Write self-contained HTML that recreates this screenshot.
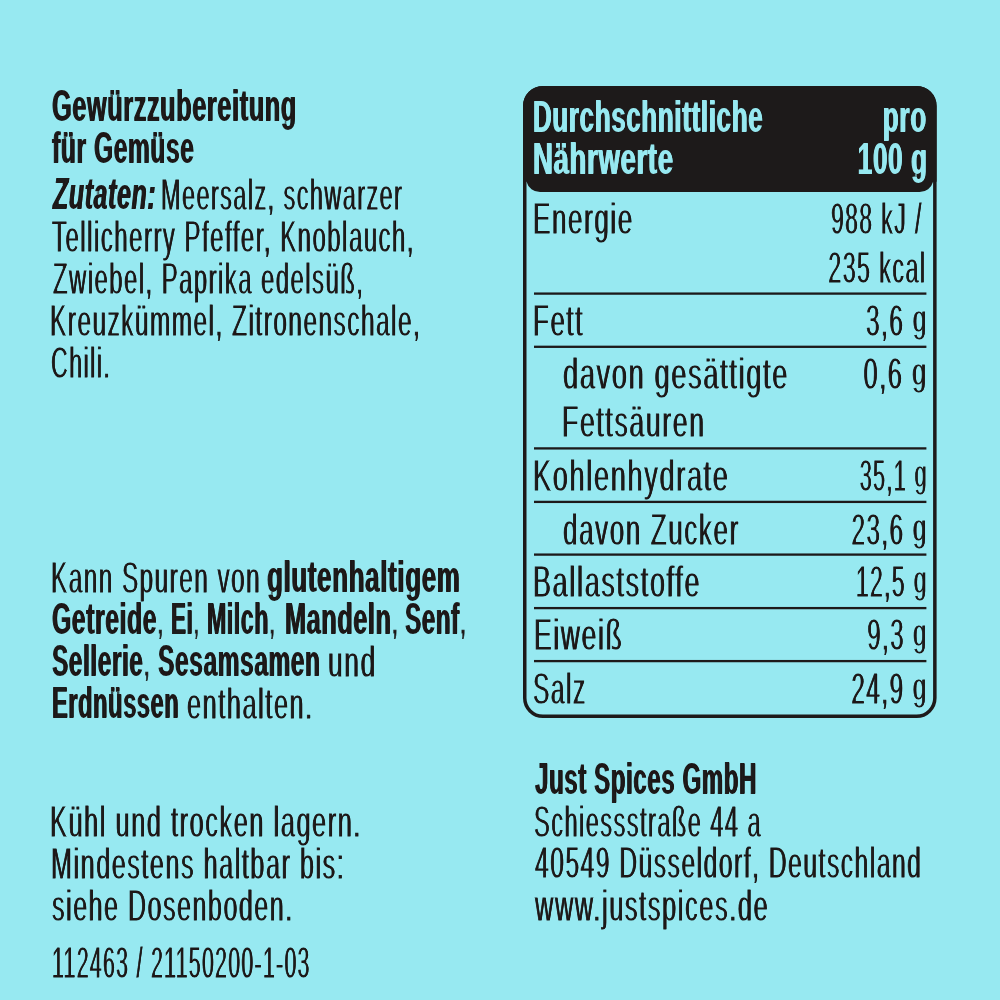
<!DOCTYPE html>
<html><head><meta charset="utf-8">
<style>
html,body{margin:0;padding:0;}
body{width:1000px;height:1000px;overflow:hidden;position:relative;background:#97e9f1;font-family:"Liberation Sans",sans-serif;color:#1d1a1a;}
.ln{position:absolute;white-space:nowrap;font-size:43.5px;line-height:50px;}
.l{transform-origin:0 0;}
.r{transform-origin:100% 0;}
b{font-weight:bold;font-size:44.8px;line-height:0;letter-spacing:1.2px;-webkit-text-stroke:1.8px #1d1a1a;text-shadow:0.8px 0 0 #1d1a1a;}
.hd b{-webkit-text-stroke:1.8px #97e9f1;text-shadow:0.8px 0 0 #97e9f1;}
.bd{filter:url(#thin);-webkit-text-stroke:1.2px #1d1a1a;}
.rg{letter-spacing:2.8px;-webkit-text-stroke:1.2px #1d1a1a;text-shadow:0.6px 0 0 #1d1a1a;filter:url(#thin);}
.hd{color:#97e9f1;}
.g{display:inline-block;transform:scaleY(0.88);transform-origin:50% 8px;}
</style></head><body>
<svg width="0" height="0" style="position:absolute"><filter id="thin" x="-2%" y="-10%" width="104%" height="120%"><feMorphology operator="erode" radius="0 0.5"/></filter></svg>
<svg width="1000" height="1000" style="position:absolute;left:0;top:0" viewBox="0 0 1000 1000">
<rect x="524.75" y="87.75" width="410.1" height="628.5" rx="18.25" ry="18.25" fill="none" stroke="#1d1a1a" stroke-width="3.5"/>
<path d="M523,106 A20,20 0 0 1 543,86 H916.6 A20,20 0 0 1 936.6,106 V181.7 H933.1 A14,14 0 0 1 919.6,192 H540 A14,14 0 0 1 526.5,181.7 H523 Z" fill="#1d1a1a"/>
<rect x="534" y="292.45" width="392.4" height="2.3" fill="#1d1a1a"/><rect x="534" y="345.65" width="392.4" height="2.3" fill="#1d1a1a"/><rect x="534" y="447.25" width="392.4" height="2.3" fill="#1d1a1a"/><rect x="534" y="500.75" width="392.4" height="2.3" fill="#1d1a1a"/><rect x="534" y="553.45" width="392.4" height="2.3" fill="#1d1a1a"/><rect x="534" y="606.95" width="392.4" height="2.3" fill="#1d1a1a"/><rect x="534" y="659.95" width="392.4" height="2.3" fill="#1d1a1a"/>
</svg>

<div id="t1" class="ln bd l" style="left:51.82px;top:80.80px;transform:scaleX(0.5614)"><b>Gewürzzubereitung</b></div>
<div id="t2" class="ln bd l" style="left:51.61px;top:122.50px;transform:scaleX(0.5458)"><b>für Gemüse</b></div>
<div id="t3a" class="ln bd l" style="left:52.50px;top:169.40px;transform:scaleX(0.5540)"><b><i>Zutaten:</i></b></div>
<div id="t3b" class="ln rg l" style="left:161.27px;top:170.20px;transform:scaleX(0.5360)">Meersalz, schwarzer</div>
<div id="t4" class="ln rg l" style="left:52.19px;top:212.20px;transform:scaleX(0.5487)">Tellicherry Pfeffer, Knoblauch,</div>
<div id="t5" class="ln rg l" style="left:52.77px;top:254.00px;transform:scaleX(0.5457)">Zwiebel, Paprika edelsüß,</div>
<div id="t6" class="ln rg l" style="left:50.30px;top:295.80px;transform:scaleX(0.5576)">Kreuzkümmel, Zitronenschale,</div>
<div id="t7" class="ln rg l" style="left:51.11px;top:337.60px;transform:scaleX(0.5306)">Chili.</div>
<div id="a1a" class="ln rg l" style="left:51.17px;top:552.80px;transform:scaleX(0.5554)">Kann Spuren von</div>
<div id="a1b" class="ln bd l" style="left:267.35px;top:552.00px;transform:scaleX(0.5766)"><b>glutenhaltigem</b></div>
<div id="a2a" class="ln bd l" style="left:52.08px;top:594.20px;transform:scaleX(0.5492)"><b>Getreide</b>,</div>
<div id="a2b" class="ln bd l" style="left:171.01px;top:594.20px;transform:scaleX(0.4988)"><b>Ei</b>,</div>
<div id="a2c" class="ln bd l" style="left:206.62px;top:594.20px;transform:scaleX(0.5144)"><b>Milch</b>,</div>
<div id="a2d" class="ln bd l" style="left:285.17px;top:594.20px;transform:scaleX(0.5602)"><b>Mandeln</b>,</div>
<div id="a2e" class="ln bd l" style="left:405.49px;top:594.20px;transform:scaleX(0.5377)"><b>Senf</b>,</div>
<div id="a3a" class="ln bd l" style="left:52.10px;top:636.00px;transform:scaleX(0.5414)"><b>Sellerie</b>,</div>
<div id="a3b" class="ln bd l" style="left:157.52px;top:636.00px;transform:scaleX(0.5450)"><b>Sesamsamen</b></div>
<div id="a3c" class="ln rg l" style="left:327.75px;top:636.80px;transform:scaleX(0.6025)">und</div>
<div id="a4a" class="ln bd l" style="left:52.16px;top:678.00px;transform:scaleX(0.5253)"><b>Erdnüssen</b></div>
<div id="a4b" class="ln rg l" style="left:187.29px;top:678.80px;transform:scaleX(0.5785)">enthalten.</div>
<div id="s1" class="ln rg l" style="left:50.48px;top:796.90px;transform:scaleX(0.5789)">Kühl und trocken lagern.</div>
<div id="s2" class="ln rg l" style="left:50.50px;top:838.80px;transform:scaleX(0.5751)">Mindestens haltbar bis:</div>
<div id="s3" class="ln rg l" style="left:52.05px;top:880.60px;transform:scaleX(0.5720)">siehe Dosenboden.</div>
<div id="s4" class="ln rg l" style="left:51.56px;top:937.60px;transform:scaleX(0.4866)">112463 / 21150200-1-03</div>
<div id="d1" class="ln bd l" style="left:534.94px;top:753.70px;transform:scaleX(0.5347)"><b>Just Spices GmbH</b></div>
<div id="d2" class="ln rg l" style="left:534.22px;top:796.80px;transform:scaleX(0.5393)">Schiessstraße 44 a</div>
<div id="d3" class="ln rg l" style="left:534.86px;top:838.40px;transform:scaleX(0.5628)">40549 Düsseldorf, Deutschland</div>
<div id="d4" class="ln rg l" style="left:534.73px;top:880.50px;transform:scaleX(0.5812)">www.justspices.de</div>
<div id="h1" class="ln bd l hd" style="left:532.89px;top:92.20px;transform:scaleX(0.5774)"><b>Durchschnittliche</b></div>
<div id="h2" class="ln bd l hd" style="left:532.78px;top:134.00px;transform:scaleX(0.6119)"><b>Nährwerte</b></div>
<div id="h3" class="ln bd r hd" style="right:73.30px;top:92.20px;transform:scaleX(0.5804)"><b>pro</b></div>
<div id="h4" class="ln bd r hd" style="right:72.80px;top:134.00px;transform:scaleX(0.5787)"><b>100 g</b></div>
<div id="r1" class="ln rg l" style="left:533.09px;top:194.30px;transform:scaleX(0.5948)">Energie</div>
<div id="v1" class="ln rg r" style="right:77.15px;top:194.30px;transform:scaleX(0.5256)">988 kJ /</div>
<div id="v1b" class="ln rg r" style="right:74.00px;top:242.50px;transform:scaleX(0.5321)">235 kcal</div>
<div id="r2" class="ln rg l" style="left:532.89px;top:296.40px;transform:scaleX(0.5918)">Fett</div>
<div id="v2" class="ln rg r" style="right:72.04px;top:296.40px;transform:scaleX(0.5585)">3,6 <span class="g">g</span></div>
<div id="r3" class="ln rg l" style="left:562.83px;top:348.80px;transform:scaleX(0.6208)">davon gesättigte</div>
<div id="r3b" class="ln rg l" style="left:562.05px;top:396.80px;transform:scaleX(0.6087)">Fettsäuren</div>
<div id="v3" class="ln rg r" style="right:71.80px;top:348.80px;transform:scaleX(0.5802)">0,6 <span class="g">g</span></div>
<div id="r4" class="ln rg l" style="left:532.78px;top:451.20px;transform:scaleX(0.6203)">Kohlenhydrate</div>
<div id="v4" class="ln rg r" style="right:72.37px;top:451.20px;transform:scaleX(0.4940)">35,1 <span class="g">g</span></div>
<div id="r5" class="ln rg l" style="left:563.46px;top:504.80px;transform:scaleX(0.5950)">davon Zucker</div>
<div id="v5" class="ln rg r" style="right:72.10px;top:504.80px;transform:scaleX(0.5539)">23,6 <span class="g">g</span></div>
<div id="r6" class="ln rg l" style="left:533.20px;top:557.00px;transform:scaleX(0.6166)">Ballaststoffe</div>
<div id="v6" class="ln rg r" style="right:72.22px;top:557.00px;transform:scaleX(0.5212)">12,5 <span class="g">g</span></div>
<div id="r7" class="ln rg l" style="left:533.59px;top:610.10px;transform:scaleX(0.6064)">Eiweiß</div>
<div id="v7" class="ln rg r" style="right:72.07px;top:610.10px;transform:scaleX(0.5464)">9,3 <span class="g">g</span></div>
<div id="r8" class="ln rg l" style="left:533.48px;top:664.00px;transform:scaleX(0.5602)">Salz</div>
<div id="v8" class="ln rg r" style="right:72.71px;top:664.00px;transform:scaleX(0.5545)">24,9 <span class="g">g</span></div>
</body></html>
